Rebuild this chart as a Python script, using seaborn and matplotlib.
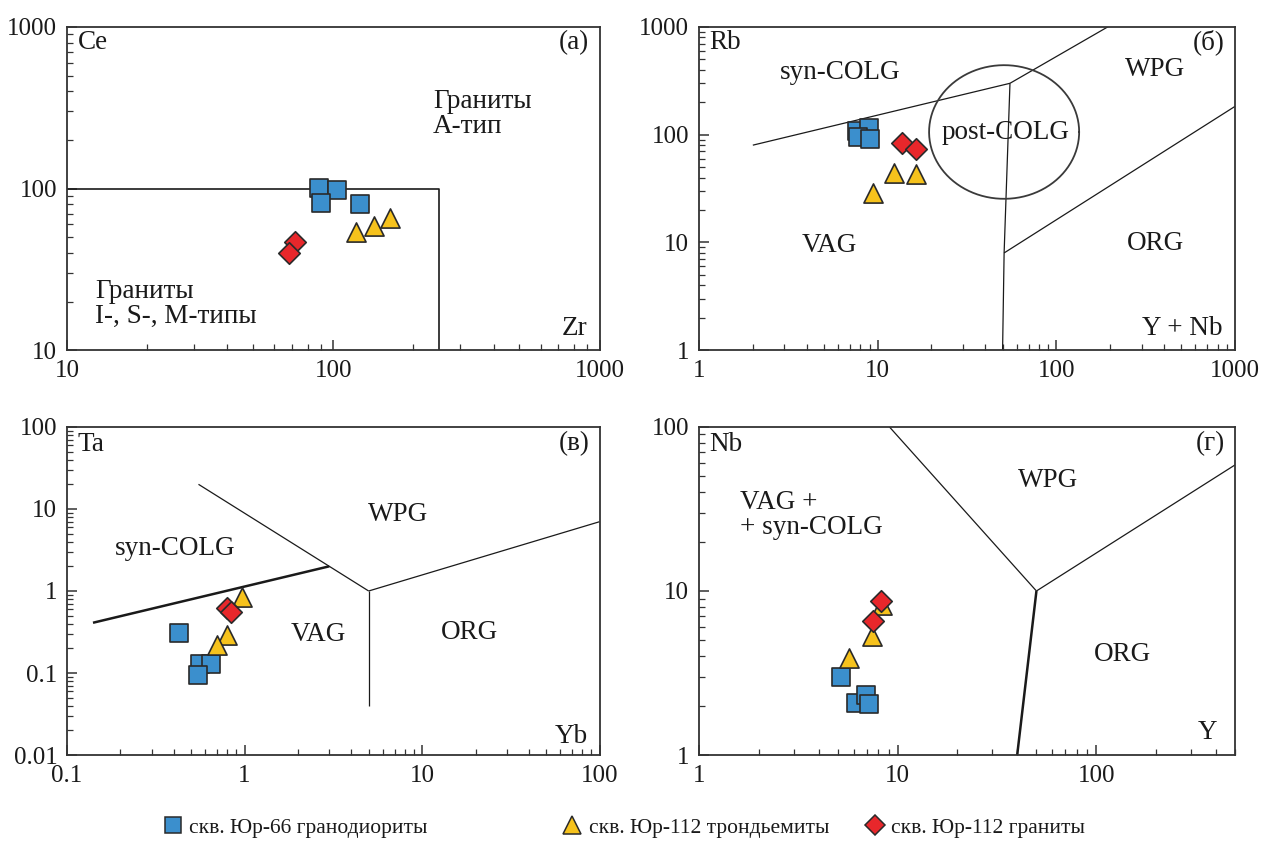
import numpy as np
import pandas as pd
import matplotlib
matplotlib.use("Agg")
import matplotlib.pyplot as plt
from matplotlib.ticker import LogLocator, FuncFormatter, NullFormatter
from matplotlib.lines import Line2D
import seaborn as sns

# ---- sample data (ppm) ----
# (а) Ce vs Zr
a_gd_zr = [88, 103, 90, 126]
a_gd_ce = [101, 98, 82, 80]
a_tr_zr = [122, 142, 163]
a_tr_ce = [54, 59, 66]
a_gr_zr = [72, 68]
a_gr_ce = [47, 40]

# (б) Rb vs Y+Nb
b_gd_ynb = [7.7, 8.9, 7.8, 9.0]
b_gd_rb = [108, 115, 95, 91]
b_tr_ynb = [12.4, 16.3, 9.4]
b_tr_rb = [44, 43, 29]
b_gr_ynb = [13.6, 16.3]
b_gr_rb = [84, 73]

# (в) Ta vs Yb
c_gd_yb = [0.43, 0.56, 0.645, 0.546]
c_gd_ta = [0.31, 0.13, 0.13, 0.095]
c_tr_yb = [0.97, 0.80, 0.70]
c_tr_ta = [0.85, 0.29, 0.22]
c_gr_yb = [0.795, 0.84]
c_gr_ta = [0.62, 0.555]

# (г) Nb vs Y
d_gd_y = [5.2, 6.15, 6.9, 7.2]
d_gd_nb = [3.0, 2.07, 2.32, 2.05]
d_tr_y = [8.3, 7.4, 5.7]
d_tr_nb = [8.2, 5.3, 3.9]
d_gr_y = [8.2, 7.5]
d_gr_nb = [8.7, 6.6]

groups = ["скв. Юр-66 гранодиориты", "скв. Юр-112 трондьемиты", "скв. Юр-112 граниты"]
colors = ["#3b8fcd", "#f6c21c", "#e8272b"]
markers = ["s", "^", "D"]
sizes = [150, 190, 120]

# ---- discrimination boundaries ----
# (а) A-type field limit
a_box_x = [10, 250, 250]
a_box_y = [100, 100, 10]
# (б) Pearce et al. 1984, Rb - (Y+Nb)
b_syn_vag_x = [2, 55]
b_syn_vag_y = [80, 300]
b_syn_wpg_x = [55, 400]
b_syn_wpg_y = [300, 2000]
b_vag_wpg_x = [55, 51, 50]
b_vag_wpg_y = [300, 8, 1]
b_wpg_org_x = [51, 2000]
b_wpg_org_y = [8, 380]
b_post_center = (51, 106)
b_post_radii = (0.42, 0.62)   # in decades
# (в) Ta - Yb
c_syn_vag_x = [0.14, 3]
c_syn_vag_y = [0.41, 2]
c_wpg_x = [0.55, 5]
c_wpg_y = [20, 1]
c_vag_org_x = [5, 5]
c_vag_org_y = [1, 0.04]
c_wpg_org_x = [5, 100]
c_wpg_org_y = [1, 7]
# (г) Nb - Y
d_wpg_x = [9.1, 50]
d_wpg_y = [100, 10]
d_wpg_org_x = [50, 1000]
d_wpg_org_y = [10, 100]
d_vag_org_x = [50, 40]
d_vag_org_y = [10, 1]

sns.set_style("ticks")
plt.rcParams["font.family"] = ["Liberation Serif", "DejaVu Serif"]

FS = 19.5      # annotation text
FS_TICK = 18   # tick labels
FS_LEG = 15.5  # legend
INK = "#1a1a1a"

fig = plt.figure(figsize=(12.65, 8.42), dpi=100)

boxes = {
    "a": [0.053, 0.584, 0.421, 0.384],
    "b": [0.5526, 0.584, 0.4237, 0.384],
    "c": [0.053, 0.1033, 0.421, 0.3896],
    "d": [0.5526, 0.1033, 0.4237, 0.3896],
}


def style_axis(ax, xlim, ylim):
    ax.set_xscale("log")
    ax.set_yscale("log")
    ax.set_xlim(*xlim)
    ax.set_ylim(*ylim)
    for s in ax.spines.values():
        s.set_linewidth(1.3)
        s.set_color("#333333")
    ax.xaxis.set_major_locator(LogLocator(base=10, numticks=20))
    ax.yaxis.set_major_locator(LogLocator(base=10, numticks=20))
    ax.xaxis.set_minor_locator(LogLocator(base=10, subs=np.arange(2, 10), numticks=20))
    ax.yaxis.set_minor_locator(LogLocator(base=10, subs=np.arange(2, 10), numticks=20))
    fmt = FuncFormatter(lambda v, p: f"{v:g}")
    ax.xaxis.set_major_formatter(fmt)
    ax.yaxis.set_major_formatter(fmt)
    ax.xaxis.set_minor_formatter(NullFormatter())
    ax.yaxis.set_minor_formatter(NullFormatter())
    ax.tick_params(which="major", direction="in", length=7, width=1.1, labelsize=FS_TICK,
                   top=False, right=False, pad=7, color="#333333", labelcolor=INK)
    ax.tick_params(which="minor", direction="in", length=4, width=0.9,
                   top=False, right=False, color="#333333")
    ax.set_xlabel("")
    ax.set_ylabel("")


def draw_points(ax, sets):
    for (xs, ys), c, m, s in zip(sets, colors, markers, sizes):
        df = pd.DataFrame({"x": xs, "y": ys})
        sns.scatterplot(data=df, x="x", y="y", ax=ax, marker=m, s=s, color=c,
                        edgecolor="#2a2a2a", linewidth=1.2, legend=False, zorder=5)


def line(ax, xs, ys, lw=0.9):
    ax.plot(xs, ys, color=INK, lw=lw, solid_capstyle="butt", zorder=2)


def txt(ax, x, y, s, ha="left", va="center", size=FS):
    ax.text(x, y, s, transform=ax.transAxes, ha=ha, va=va, fontsize=size,
            color=INK, linespacing=1.0)


# ---- (а) ----
ax = fig.add_axes(boxes["a"])
draw_points(ax, [(a_gd_zr, a_gd_ce), (a_tr_zr, a_tr_ce), (a_gr_zr, a_gr_ce)])
line(ax, a_box_x, a_box_y, lw=1.2)
style_axis(ax, (10, 1000), (10, 1000))
txt(ax, 0.02, 0.952, "Ce")
txt(ax, 0.981, 0.952, "(а)", ha="right")
txt(ax, 0.977, 0.068, "Zr", ha="right")
txt(ax, 0.687, 0.732, "Граниты\nА-тип")
txt(ax, 0.053, 0.142, "Граниты\nI-, S-, M-типы")

# ---- (б) ----
ax = fig.add_axes(boxes["b"])
draw_points(ax, [(b_gd_ynb, b_gd_rb), (b_tr_ynb, b_tr_rb), (b_gr_ynb, b_gr_rb)])
line(ax, b_syn_vag_x, b_syn_vag_y)
line(ax, b_syn_wpg_x, b_syn_wpg_y)
line(ax, b_vag_wpg_x, b_vag_wpg_y)
line(ax, b_wpg_org_x, b_wpg_org_y)
t = np.linspace(0, 2 * np.pi, 300)
ex = 10 ** (np.log10(b_post_center[0]) + b_post_radii[0] * np.cos(t))
ey = 10 ** (np.log10(b_post_center[1]) + b_post_radii[1] * np.sin(t))
ax.plot(ex, ey, color="#3a3a3a", lw=1.3, zorder=2)
style_axis(ax, (1, 1000), (1, 1000))
txt(ax, 0.02, 0.952, "Rb")
txt(ax, 0.981, 0.952, "(б)", ha="right")
txt(ax, 0.976, 0.068, "Y + Nb", ha="right")
txt(ax, 0.263, 0.858, "syn-COLG", ha="center")
txt(ax, 0.851, 0.867, "WPG", ha="center")
txt(ax, 0.571, 0.672, "post-COLG", ha="center")
txt(ax, 0.244, 0.325, "VAG", ha="center")
txt(ax, 0.851, 0.331, "ORG", ha="center")

# ---- (в) ----
ax = fig.add_axes(boxes["c"])
draw_points(ax, [(c_gd_yb, c_gd_ta), (c_tr_yb, c_tr_ta), (c_gr_yb, c_gr_ta)])
line(ax, c_syn_vag_x, c_syn_vag_y, lw=1.8)
line(ax, c_wpg_x, c_wpg_y)
line(ax, c_vag_org_x, c_vag_org_y)
line(ax, c_wpg_org_x, c_wpg_org_y)
style_axis(ax, (0.1, 100), (0.01, 100))
txt(ax, 0.02, 0.948, "Ta")
txt(ax, 0.981, 0.948, "(в)", ha="right")
txt(ax, 0.977, 0.055, "Yb", ha="right")
txt(ax, 0.203, 0.631, "syn-COLG", ha="center")
txt(ax, 0.621, 0.732, "WPG", ha="center")
txt(ax, 0.471, 0.366, "VAG", ha="center")
txt(ax, 0.756, 0.375, "ORG", ha="center")

# ---- (г) ----
ax = fig.add_axes(boxes["d"])
draw_points(ax, [(d_gd_y, d_gd_nb), (d_tr_y, d_tr_nb), (d_gr_y, d_gr_nb)])
line(ax, d_wpg_x, d_wpg_y)
line(ax, d_wpg_org_x, d_wpg_org_y)
line(ax, d_vag_org_x, d_vag_org_y, lw=1.8)
style_axis(ax, (1, 500), (1, 100))
txt(ax, 0.02, 0.948, "Nb")
txt(ax, 0.981, 0.948, "(г)", ha="right")
txt(ax, 0.966, 0.07, "Y", ha="right")
txt(ax, 0.0765, 0.732, "VAG +\n+ syn-COLG")
txt(ax, 0.651, 0.838, "WPG", ha="center")
txt(ax, 0.791, 0.305, "ORG", ha="center")

# ---- legend: one entry per sample group ----
legend_x = [0.128, 0.444, 0.683]
for g, m, c, ms, lx in zip(groups, markers, colors, [11.5, 13, 10], legend_x):
    h = Line2D([], [], linestyle="none", marker=m, markersize=ms, markerfacecolor=c,
               markeredgecolor="#2a2a2a", markeredgewidth=1.1)
    fig.legend([h], [g], loc="center left", bbox_to_anchor=(lx, 0.017),
               frameon=False, fontsize=FS_LEG, handletextpad=0.25,
               handlelength=1.0, borderpad=0, borderaxespad=0, labelcolor=INK)

fig.savefig("out.png", dpi=100)
